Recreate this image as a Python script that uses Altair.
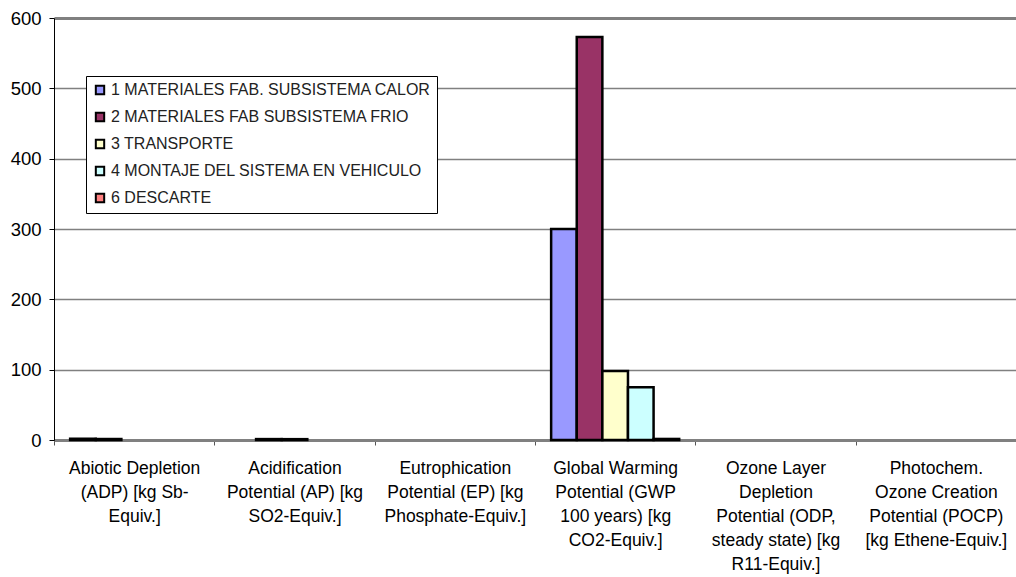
import altair as alt
import pandas as pd

# Impact categories (line breaks marked with "|")
categories = [
    "Abiotic Depletion|(ADP) [kg Sb-|Equiv.]",
    "Acidification|Potential (AP) [kg|SO2-Equiv.]",
    "Eutrophication|Potential (EP) [kg|Phosphate-Equiv.]",
    "Global Warming|Potential (GWP|100 years) [kg|CO2-Equiv.]",
    "Ozone Layer|Depletion|Potential (ODP,|steady state) [kg|R11-Equiv.]",
    "Photochem.|Ozone Creation|Potential (POCP)|[kg Ethene-Equiv.]",
]

series = [
    "1 MATERIALES FAB. SUBSISTEMA CALOR",
    "2 MATERIALES FAB SUBSISTEMA  FRIO",
    "3 TRANSPORTE",
    "4 MONTAJE DEL SISTEMA EN VEHICULO",
    "6 DESCARTE",
]
colors = ["#9999FF", "#993366", "#FFFFCC", "#CCFFFF", "#FF8080"]

# One list per series, one value per impact category
calor = [1.6, 0.0, 0.0, 300.0, 0.0, 0.0]
frio = [1.4, 1.3, 0.0, 573.0, 0.0, 0.0]
transporte = [0.0, 1.2, 0.0, 98.0, 0.0, 0.0]
montaje = [0.0, 0.0, 0.0, 75.0, 0.0, 0.0]
descarte = [0.0, 0.0, 0.0, 1.5, 0.0, 0.0]

y_ticks = [0, 100, 200, 300, 400, 500, 600]

rows = []
for name, vals in zip(series, [calor, frio, transporte, montaje, descarte]):
    for cat, v in zip(categories, vals):
        rows.append({"category": cat, "series": name, "value": v})
df = pd.DataFrame(rows)

font = "Liberation Sans"

chart = (
    alt.Chart(df)
    .transform_filter("datum.value > 0")
    .mark_bar(stroke="black", strokeWidth=2.5)
    .encode(
        x=alt.X(
            "category:N",
            sort=categories,
            title=None,
            scale=alt.Scale(domain=categories, paddingInner=0, paddingOuter=0),
            axis=alt.Axis(
                labelExpr="split(datum.label, '|')",
                labelAngle=0,
                labelFont=font,
                labelFontSize=17.5,
                labelColor="black",
                labelLineHeight=24,
                labelPadding=14,
                labelBaseline="top",
                labelLimit=250,
                tickBand="extent",
                tickColor="#555555",
                tickSize=5,
                domainColor="#808080",
                domainWidth=3,
                grid=False,
            ),
        ),
        xOffset=alt.XOffset(
            "series:N",
            sort=series,
            scale=alt.Scale(domain=series, paddingInner=0, paddingOuter=0.63),
        ),
        y=alt.Y(
            "value:Q",
            title=None,
            scale=alt.Scale(domain=[0, 600], nice=False),
            axis=alt.Axis(
                values=y_ticks,
                labelFont=font,
                labelFontSize=18.5,
                labelColor="black",
                labelPadding=8,
                tickSize=5,
                tickColor="black",
                domainColor="black",
                domainWidth=1,
                gridColor="#808080",
                gridWidth={"condition": {"test": "datum.value == 600", "value": 3}, "value": 1.5},
            ),
        ),
        color=alt.Color(
            "series:N",
            sort=series,
            scale=alt.Scale(domain=series, range=colors),
            legend=alt.Legend(
                title=None,
                orient="none",
                legendX=32,
                legendY=58,
                fillColor="white",
                strokeColor="black",
                padding=6,
                symbolType="square",
                symbolSize=70,
                symbolStrokeColor="black",
                symbolStrokeWidth=2,
                labelFont=font,
                labelFontSize=16,
                labelColor="#222222",
                labelLimit=400,
                labelOffset=3,
                rowPadding=9,
            ),
        ),
    )
    .properties(
        width=962,
        height=422,
        autosize=alt.AutoSizeParams(type="none"),
        padding={"left": 54, "top": 18, "right": 0, "bottom": 137},
    )
    .configure_view(stroke=None)
    .configure(background="white")
)

chart.save("out.html", embed_options={"renderer": "svg", "actions": False})
